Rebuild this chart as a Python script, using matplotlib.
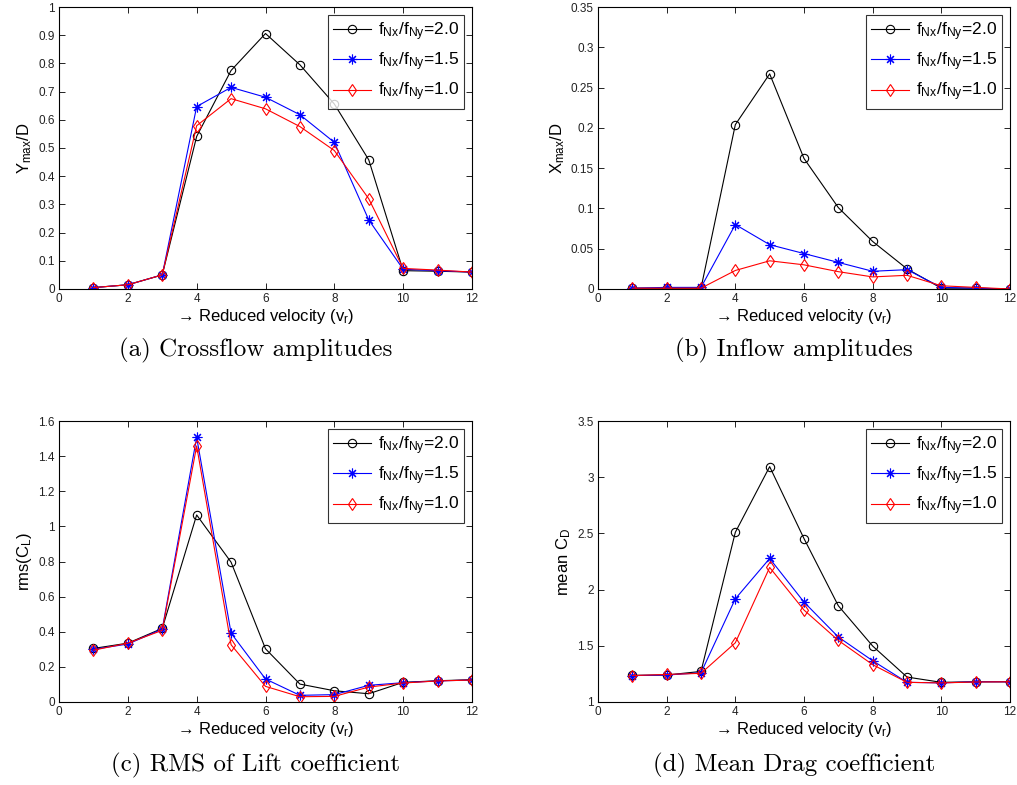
import matplotlib
matplotlib.use("Agg")
import matplotlib.pyplot as plt
from matplotlib.ticker import FormatStrFormatter, MultipleLocator
import numpy as np

plt.rcParams['font.family'] = ['Liberation Sans', 'DejaVu Sans']
plt.rcParams['mathtext.default'] = 'regular'

vr = [1, 2, 3, 4, 5, 6, 7, 8, 9, 10, 11, 12]
series_labels = [r'f$_{Nx}$/f$_{Ny}$=2.0', r'f$_{Nx}$/f$_{Ny}$=1.5', r'f$_{Nx}$/f$_{Ny}$=1.0']

# (a) Crossflow amplitudes Ymax/D
ymax_20 = [0.005, 0.015, 0.05, 0.541, 0.775, 0.906, 0.795, 0.656, 0.458, 0.065, 0.063, 0.060]
ymax_15 = [0.005, 0.015, 0.05, 0.647, 0.715, 0.680, 0.618, 0.520, 0.245, 0.070, 0.065, 0.060]
ymax_10 = [0.005, 0.015, 0.05, 0.579, 0.675, 0.639, 0.576, 0.491, 0.320, 0.073, 0.067, 0.060]

# (b) Inflow amplitudes Xmax/D
xmax_20 = [0.001, 0.001, 0.001, 0.204, 0.267, 0.162, 0.101, 0.059, 0.025, 0.001, 0.001, 0.000]
xmax_15 = [0.001, 0.002, 0.002, 0.080, 0.055, 0.044, 0.033, 0.022, 0.024, 0.002, 0.001, 0.000]
xmax_10 = [0.001, 0.001, 0.001, 0.023, 0.035, 0.030, 0.0215, 0.015, 0.017, 0.004, 0.002, 0.000]

# (c) RMS of lift coefficient
cl_20 = [0.305, 0.335, 0.419, 1.065, 0.796, 0.303, 0.102, 0.064, 0.047, 0.112, 0.121, 0.127]
cl_15 = [0.300, 0.330, 0.415, 1.507, 0.392, 0.131, 0.038, 0.042, 0.095, 0.110, 0.120, 0.125]
cl_10 = [0.295, 0.335, 0.408, 1.458, 0.326, 0.089, 0.030, 0.032, 0.085, 0.108, 0.120, 0.125]

# (d) Mean drag coefficient
cd_20 = [1.237, 1.240, 1.272, 2.510, 3.094, 2.454, 1.856, 1.498, 1.222, 1.175, 1.180, 1.180]
cd_15 = [1.235, 1.240, 1.260, 1.918, 2.277, 1.889, 1.578, 1.367, 1.175, 1.170, 1.180, 1.180]
cd_10 = [1.235, 1.245, 1.255, 1.527, 2.197, 1.818, 1.548, 1.332, 1.175, 1.170, 1.178, 1.180]

W, H = 1017, 785
fig = plt.figure(figsize=(W / 100, H / 100), dpi=100)


def px_axes(x0, y0, x1, y1):
    return fig.add_axes([x0 / W, 1 - y1 / H, (x1 - x0) / W, (y1 - y0) / H])


panels = [
    dict(box=(59, 7, 472, 289), data=(ymax_20, ymax_15, ymax_10), ylim=(0, 1), ystep=0.1,
         ylabel=r'Y$_{max}$/D', caption='(a) Crossflow amplitudes', cap_y=350),
    dict(box=(598, 7, 1010, 289), data=(xmax_20, xmax_15, xmax_10), ylim=(0, 0.35), ystep=0.05,
         ylabel=r'X$_{max}$/D', caption='(b) Inflow amplitudes', cap_y=350),
    dict(box=(59, 421, 472, 702), data=(cl_20, cl_15, cl_10), ylim=(0, 1.6), ystep=0.2,
         ylabel=r'rms(C$_L$)', caption='(c) RMS of Lift coefficient', cap_y=765),
    dict(box=(598, 421, 1010, 702), data=(cd_20, cd_15, cd_10), ylim=(1, 3.5), ystep=0.5,
         ylabel=r'mean C$_D$', caption='(d) Mean Drag coefficient', cap_y=765),
]

styles = [
    dict(color='black', marker='o', mfc='none', mec='black', ms=6),
    dict(color='blue', marker=(8, 2, 0), mfc='blue', mec='blue', ms=7),
    dict(color='red', marker='d', mfc='none', mec='red', ms=6),
]

for p in panels:
    ax = px_axes(*p['box'])
    for vals, st, lab in zip(p['data'], styles, series_labels):
        ax.plot(vr, vals, lw=0.8, mew=0.8, label=lab, **st)
    ax.set_xlim(0, 12)
    ax.set_ylim(*p['ylim'])
    ax.xaxis.set_major_locator(MultipleLocator(2))
    ax.yaxis.set_major_locator(MultipleLocator(p['ystep']))
    ax.yaxis.set_major_formatter(FormatStrFormatter('%g'))
    ax.tick_params(direction='in', top=True, right=True, labelsize=8.5, length=4,
                   width=0.6, labelcolor='#222222', pad=3)
    for s in ax.spines.values():
        s.set_linewidth(0.8)
    ax.set_xlabel('\u2192 Reduced velocity (v$_r$)', fontsize=12, labelpad=1)
    ax.set_ylabel(p['ylabel'], fontsize=12, labelpad=3)
    leg = ax.legend(loc='upper right', fontsize=12.5, frameon=True, fancybox=False,
                    edgecolor='black', handlelength=2.2, borderaxespad=0.45,
                    labelspacing=0.45, handletextpad=0.4, borderpad=0.3)
    leg.get_frame().set_linewidth(0.8)
    x0, y0, x1, y1 = p['box']
    fig.text(((x0 + x1) / 2 - 10) / W, 1 - p['cap_y'] / H, p['caption'],
             ha='center', va='center', fontsize=18, family='cmr10')

fig.savefig('out.png', dpi=100)
